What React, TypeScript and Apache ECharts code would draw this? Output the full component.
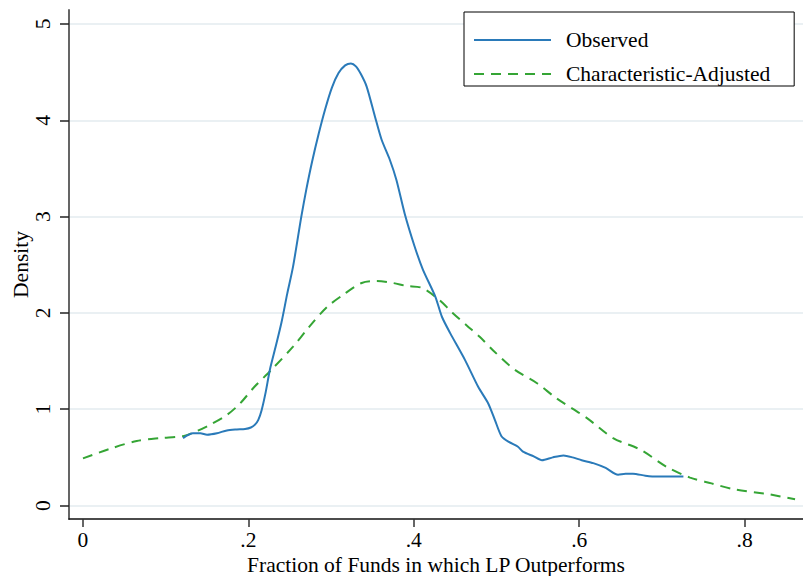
import React, { useEffect, useRef } from "react";
import * as echarts from "echarts";

const observedX = [0.121, 0.133, 0.142, 0.150, 0.162, 0.174, 0.186, 0.196, 0.203, 0.208, 0.212, 0.216, 0.221, 0.226, 0.233, 0.240, 0.247, 0.254, 0.264, 0.270, 0.277, 0.285, 0.293, 0.301, 0.309, 0.317, 0.324, 0.330, 0.336, 0.343, 0.353, 0.361, 0.371, 0.379, 0.389, 0.401, 0.411, 0.426, 0.434, 0.444, 0.462, 0.478, 0.490, 0.498, 0.506, 0.515, 0.526, 0.532, 0.545, 0.555, 0.568, 0.581, 0.592, 0.603, 0.617, 0.632, 0.647, 0.656, 0.665, 0.680, 0.694, 0.710, 0.726];
const observedY = [0.70, 0.75, 0.75, 0.735, 0.75, 0.78, 0.79, 0.795, 0.81, 0.84, 0.89, 0.99, 1.18, 1.41, 1.65, 1.90, 2.20, 2.48, 3.0, 3.28, 3.57, 3.86, 4.12, 4.34, 4.49, 4.57, 4.59, 4.56, 4.48, 4.35, 4.04, 3.80, 3.59, 3.38, 3.03, 2.69, 2.45, 2.17, 1.96, 1.79, 1.51, 1.23, 1.06, 0.89, 0.72, 0.66, 0.61, 0.56, 0.51, 0.47, 0.50, 0.52, 0.50, 0.47, 0.44, 0.39, 0.32, 0.33, 0.33, 0.31, 0.30, 0.30, 0.30];

const adjustedX = [0.0, 0.033, 0.065, 0.093, 0.121, 0.137, 0.154, 0.174, 0.190, 0.206, 0.228, 0.254, 0.274, 0.295, 0.315, 0.337, 0.355, 0.375, 0.391, 0.410, 0.430, 0.447, 0.464, 0.480, 0.496, 0.522, 0.549, 0.573, 0.609, 0.641, 0.674, 0.706, 0.734, 0.760, 0.786, 0.827, 0.861];
const adjustedY = [0.49, 0.59, 0.67, 0.70, 0.72, 0.77, 0.84, 0.94, 1.06, 1.22, 1.41, 1.65, 1.86, 2.06, 2.19, 2.31, 2.33, 2.31, 2.28, 2.26, 2.14, 2.00, 1.87, 1.75, 1.61, 1.41, 1.27, 1.11, 0.91, 0.70, 0.58, 0.40, 0.29, 0.23, 0.17, 0.12, 0.065];

const xTicks = [0, 0.2, 0.4, 0.6, 0.8];
const yTicks = [0, 1, 2, 3, 4, 5];

const seriesNames = ["Observed", "Characteristic-Adjusted"];
const xTitle = "Fraction of Funds in which LP Outperforms";
const yTitle = "Density";

const FONT = "Liberation Serif";
const FS = 21.5;

const zip = (xs: number[], ys: number[]) => xs.map((x, i) => [x, ys[i]]);

export default function App() {
  const ref = useRef<HTMLDivElement>(null);
  useEffect(() => {
    if (!ref.current) return;
    const chart = echarts.init(ref.current, undefined, { renderer: "svg" });
    chart.setOption({
      animation: false,
      backgroundColor: "#fff",
      textStyle: { fontFamily: FONT },
      grid: { left: 69, top: 10, right: 0, bottom: 57, containLabel: false, outerBoundsMode: "none" },
      legend: {
        orient: "vertical",
        left: 464,
        top: 12,
        padding: [17, 24, 1, 9],
        itemWidth: 77,
        itemHeight: 14,
        itemGap: 12,
        borderColor: "#000",
        borderWidth: 1,
        backgroundColor: "#fff",
        itemStyle: { opacity: 0 },
        textStyle: { fontFamily: FONT, fontSize: FS, color: "#000", lineHeight: 20, padding: [0, 0, 0, 10] },
        data: seriesNames,
      },
      xAxis: {
        type: "value",
        min: -0.0169,
        max: 0.8706,
        name: xTitle,
        nameLocation: "middle",
        nameGap: 35,
        nameMoveOverlap: false,
        nameTextStyle: { fontFamily: FONT, fontSize: FS, color: "#000" },
        axisLine: { show: true, onZero: false, lineStyle: { color: "#111", width: 1.5 } },
        axisTick: { show: true, length: 8, customValues: xTicks, lineStyle: { color: "#333", width: 1.5 } },
        axisLabel: {
          customValues: xTicks,
          margin: 10,
          fontFamily: FONT,
          fontSize: FS,
          color: "#000",
          formatter: (v: number) => (v === 0 ? "0" : String(Number(v.toFixed(1))).replace(/^0/, "")),
        },
        splitLine: { show: false },
      },
      yAxis: {
        type: "value",
        min: -0.14,
        max: 5.145,
        name: yTitle,
        nameLocation: "middle",
        nameGap: 37,
        nameMoveOverlap: false,
        nameTextStyle: { fontFamily: FONT, fontSize: FS, color: "#000" },
        axisLine: { show: true, onZero: false, lineStyle: { color: "#555", width: 1.8 } },
        axisTick: { show: true, length: 9, customValues: yTicks, lineStyle: { color: "#222", width: 1.5 } },
        axisLabel: {
          customValues: yTicks,
          rotate: 90,
          margin: 15,
          fontFamily: FONT,
          fontSize: FS,
          color: "#000",
        },
        splitLine: { show: true, lineStyle: { color: "#eaf0f3", width: 2 } },
      },
      series: [
        {
          name: seriesNames[0],
          type: "line",
          data: zip(observedX, observedY),
          symbol: "none",
          smooth: 0.25,
          lineStyle: { color: "#2a7ab9", width: 2 },
          itemStyle: { color: "#2a7ab9" },
          z: 3,
        },
        {
          name: seriesNames[1],
          type: "line",
          data: zip(adjustedX, adjustedY),
          symbol: "none",
          smooth: 0.3,
          lineStyle: { color: "#35a535", width: 2, type: [10, 7] },
          itemStyle: { color: "#35a535" },
          z: 2,
        },
      ],
    });
    return () => chart.dispose();
  }, []);
  return (
    <div
      ref={ref}
      style={{ position: "fixed", left: 0, top: 0, width: 803, height: 576 }}
    />
  );
}
